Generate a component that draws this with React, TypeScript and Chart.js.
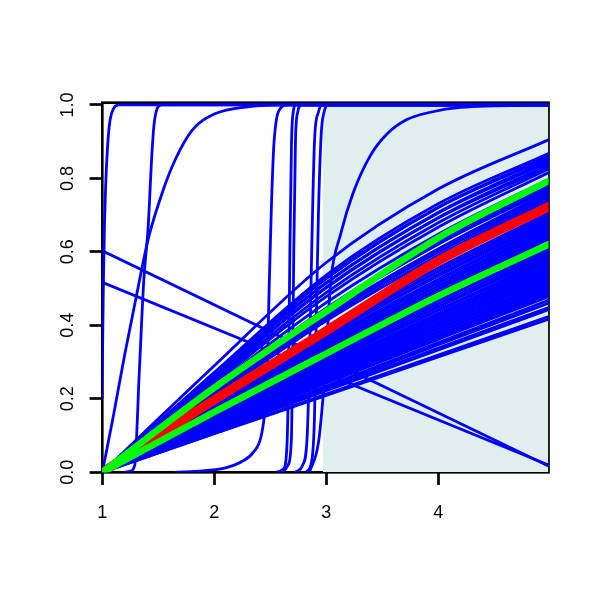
import React, { useEffect, useRef } from 'react';
import { Chart, registerables } from 'chart.js';

Chart.register(...registerables);

// ---- axis ranges ----
const xRange = [1, 4.985];
const yRange = [0, 1.006];

// ---- shaded region (x from / to, top) ----
const shadeX = [2.968, 4.985];
const shadeTop = 1.006;

// ---- fan of concave curves, y at x = 1..5 ----
const bundleX = [1, 2, 3, 4, 5];
const bundleY: number[][] = [
  [0, 0.290, 0.571, 0.771, 0.907],
  [0, 0.272, 0.537, 0.731, 0.870],
  [0, 0.267, 0.527, 0.721, 0.864],
  [0, 0.269, 0.529, 0.721, 0.858],
  [0, 0.261, 0.515, 0.707, 0.852],
  [0, 0.262, 0.516, 0.706, 0.846],
  [0, 0.254, 0.502, 0.693, 0.840],
  [0, 0.255, 0.504, 0.692, 0.834],
  [0, 0.248, 0.489, 0.679, 0.828],
  [0, 0.242, 0.478, 0.667, 0.818],
  [0, 0.234, 0.462, 0.648, 0.800],
  [0, 0.226, 0.447, 0.630, 0.783],
  [0, 0.221, 0.439, 0.622, 0.777],
  [0, 0.222, 0.441, 0.621, 0.771],
  [0, 0.215, 0.427, 0.608, 0.765],
  [0, 0.216, 0.429, 0.607, 0.759],
  [0, 0.212, 0.421, 0.599, 0.753],
  [0, 0.208, 0.412, 0.590, 0.747],
  [0, 0.209, 0.414, 0.589, 0.741],
  [0, 0.194, 0.386, 0.556, 0.708],
  [0, 0.190, 0.378, 0.548, 0.702],
  [0, 0.191, 0.380, 0.546, 0.696],
  [0, 0.187, 0.372, 0.538, 0.690],
  [0, 0.185, 0.369, 0.534, 0.684],
  [0, 0.181, 0.361, 0.525, 0.678],
  [0, 0.182, 0.362, 0.524, 0.672],
  [0, 0.178, 0.355, 0.516, 0.666],
  [0, 0.179, 0.356, 0.515, 0.660],
  [0, 0.175, 0.348, 0.507, 0.654],
  [0, 0.171, 0.341, 0.499, 0.648],
  [0, 0.172, 0.342, 0.498, 0.642],
  [0, 0.168, 0.335, 0.490, 0.637],
  [0, 0.159, 0.317, 0.467, 0.611],
  [0, 0.160, 0.319, 0.467, 0.606],
  [0, 0.156, 0.312, 0.459, 0.600],
  [0, 0.153, 0.305, 0.451, 0.594],
  [0, 0.153, 0.305, 0.450, 0.588],
  [0, 0.150, 0.299, 0.442, 0.582],
  [0, 0.150, 0.299, 0.441, 0.576],
  [0, 0.146, 0.292, 0.433, 0.570],
  [0, 0.143, 0.286, 0.426, 0.564],
  [0, 0.143, 0.286, 0.424, 0.558],
  [0, 0.140, 0.280, 0.417, 0.552],
  [0, 0.140, 0.280, 0.415, 0.546],
  [0, 0.137, 0.274, 0.408, 0.540],
  [0, 0.134, 0.267, 0.401, 0.534],
  [0, 0.134, 0.267, 0.399, 0.528],
  [0, 0.131, 0.261, 0.392, 0.522],
  [0, 0.131, 0.261, 0.390, 0.516],
  [0, 0.128, 0.255, 0.383, 0.510],
  [0, 0.128, 0.255, 0.381, 0.504],
  [0, 0.125, 0.249, 0.374, 0.498],
  [0, 0.125, 0.249, 0.371, 0.492],
  [0, 0.122, 0.243, 0.365, 0.486],
  [0, 0.122, 0.243, 0.362, 0.480],
  [0, 0.118, 0.235, 0.353, 0.470],
  [0, 0.116, 0.231, 0.347, 0.462],
  [0, 0.113, 0.225, 0.338, 0.450],
  [0, 0.111, 0.222, 0.333, 0.444],
  [0, 0.106, 0.213, 0.319, 0.425],
  [0, 0.105, 0.209, 0.314, 0.418],
];

// ---- highlighted curves, y at x = 1..5 ----
const redY = [0, 0.197, 0.385, 0.575, 0.725];
const greenUpperY = [0, 0.23, 0.438, 0.638, 0.795];
const greenLowerY = [0, 0.164, 0.323, 0.48, 0.622];

// ---- steep S-shaped curves: [x, y] pairs ----
const curveA: number[][] = [[0.99, 0], [0.998, 0.2], [1.003, 0.35], [1.01, 0.52], [1.02, 0.68], [1.03, 0.78], [1.05, 0.9], [1.07, 0.96], [1.1, 0.99], [1.15, 1], [4.985, 1]];
const curveB: number[][] = [[1.2, 0], [1.25, 0.003], [1.29, 0.02], [1.33, 0.27], [1.37, 0.52], [1.41, 0.67], [1.44, 0.85], [1.46, 0.94], [1.49, 0.99], [1.53, 1], [4.985, 1]];
const curveC: number[][] = [[1, 0], [1.1, 0.155], [1.2, 0.32], [1.324, 0.51], [1.41, 0.635], [1.54, 0.765], [1.65, 0.85], [1.8, 0.93], [2.0, 0.975], [2.3, 0.995], [2.7, 1], [4.985, 1]];
const curveE1: number[][] = [[1.65, 0], [1.9, 0.004], [2.1, 0.012], [2.25, 0.03], [2.35, 0.055], [2.42, 0.1], [2.455, 0.18], [2.475, 0.3], [2.49, 0.5], [2.51, 0.72], [2.53, 0.88], [2.555, 0.96], [2.59, 0.99], [2.65, 1], [4.985, 1]];
const curveE2: number[][] = [[2.55, 0], [2.62, 0.01], [2.65, 0.08], [2.665, 0.3], [2.675, 0.6], [2.69, 0.9], [2.705, 0.98], [2.73, 1], [4.985, 1]];
const curveE3: number[][] = [[2.6, 0], [2.66, 0.02], [2.69, 0.1], [2.7, 0.3], [2.71, 0.6], [2.725, 0.9], [2.745, 0.98], [2.78, 1], [4.985, 1]];
const curveE4: number[][] = [[2.72, 0], [2.79, 0.02], [2.83, 0.1], [2.85, 0.3], [2.87, 0.6], [2.895, 0.9], [2.93, 0.98], [2.97, 1], [4.985, 1]];
const curveE5: number[][] = [[2.82, 0], [2.87, 0.03], [2.895, 0.15], [2.91, 0.4], [2.93, 0.7], [2.955, 0.92], [2.98, 0.98], [3.02, 1], [4.985, 1]];
const curveD: number[][] = [[2.85, 0], [2.93, 0.08], [2.97, 0.2], [3.0, 0.33], [3.02, 0.43], [3.04, 0.52], [3.13, 0.65], [3.24, 0.76], [3.39, 0.86], [3.54, 0.92], [3.72, 0.96], [3.93, 0.98], [4.2, 0.993], [4.985, 1]];
const sCurves = [curveA, curveB, curveC, curveE1, curveE2, curveE3, curveE4, curveE5, curveD];

// ---- decreasing straight lines ----
const straightLines: number[][][] = [
  [[1, 0.603], [4.985, 0.017]],
  [[1, 0.517], [4.985, 0.02]],
];

// ---- tick settings ----
const xStep = 1;
const yStep = 0.2;

const BLUE = '#0000ff';
const RED = '#ff0000';
const GREEN = '#00ff00';
const SHADE = '#e0eeee';
const LABEL_FONT = '18px "Liberation Sans", Arial, Helvetica, sans-serif';

const toPts = (xs: number[], ys: number[]) => xs.map((x, i) => ({ x, y: ys[i] }));
const pairPts = (p: number[][]) => p.map(([x, y]) => ({ x, y }));

const framePlugin = {
  id: 'frameBox',
  beforeDatasetsDraw(chart: any) {
    const { ctx, chartArea: a } = chart;
    ctx.save();
    ctx.strokeStyle = '#000';
    ctx.lineWidth = 2.67;
    ctx.strokeRect(a.left, a.top, a.right - a.left, a.bottom - a.top);
    ctx.restore();
  },
};

// tick labels, placed at the scales' own tick positions
const tickLabelPlugin = {
  id: 'tickLabels',
  afterDraw(chart: any) {
    const { ctx, chartArea: a, scales } = chart;
    const xs = scales.x;
    const ys = scales.y;
    ctx.save();
    ctx.fillStyle = '#000';
    ctx.font = LABEL_FONT;
    ctx.textAlign = 'center';
    ctx.textBaseline = 'alphabetic';
    xs.ticks.forEach((t: any) => {
      const px = xs.getPixelForValue(t.value);
      ctx.fillText(String(t.value), px, a.bottom + 46);
    });
    ys.ticks.forEach((t: any) => {
      const py = ys.getPixelForValue(t.value);
      ctx.save();
      ctx.translate(a.left - 29, py);
      ctx.rotate(-Math.PI / 2);
      ctx.fillText(Number(t.value).toFixed(1), 0, 0);
      ctx.restore();
    });
    ctx.restore();
  },
};

export default function App() {
  const ref = useRef<HTMLCanvasElement | null>(null);

  useEffect(() => {
    if (!ref.current) return;
    const lineBase = { pointRadius: 0, fill: false, borderColor: BLUE, borderWidth: 2.8 };
    const datasets: any[] = [];

    datasets.push({
      data: [{ x: shadeX[0], y: shadeTop }, { x: shadeX[1], y: shadeTop }],
      fill: 'origin',
      backgroundColor: SHADE,
      borderColor: 'rgba(0,0,0,0)',
      borderWidth: 0,
      pointRadius: 0,
      order: 100,
    });
    bundleY.forEach((ys) => {
      datasets.push({ ...lineBase, data: toPts(bundleX, ys), cubicInterpolationMode: 'monotone', order: 50 });
    });
    sCurves.forEach((c) => {
      datasets.push({ ...lineBase, data: pairPts(c), cubicInterpolationMode: 'monotone', order: 50 });
    });
    straightLines.forEach((l) => {
      datasets.push({ ...lineBase, data: pairPts(l), tension: 0, order: 50 });
    });
    datasets.push({ ...lineBase, data: toPts(bundleX, redY), borderColor: RED, borderWidth: 9.3, cubicInterpolationMode: 'monotone', order: 2 });
    datasets.push({ ...lineBase, data: toPts(bundleX, greenUpperY), borderColor: GREEN, borderWidth: 6.7, cubicInterpolationMode: 'monotone', order: 1 });
    datasets.push({ ...lineBase, data: toPts(bundleX, greenLowerY), borderColor: GREEN, borderWidth: 6.7, cubicInterpolationMode: 'monotone', order: 1 });

    const chart = new Chart(ref.current, {
      type: 'line',
      data: { datasets },
      plugins: [framePlugin, tickLabelPlugin],
      options: {
        animation: false,
        responsive: false,
        devicePixelRatio: 1,
        layout: { padding: { top: 102.7, right: 51.5, left: 0, bottom: 0 } },
        plugins: { legend: { display: false }, tooltip: { enabled: false } },
        scales: {
          x: {
            type: 'linear',
            min: xRange[0],
            max: xRange[1],
            afterFit: (s: any) => { s.height = 127.7; },
            border: { display: false },
            grid: { drawOnChartArea: false, drawTicks: true, tickLength: 12.7, tickWidth: 2.67, tickColor: '#000' },
            ticks: { stepSize: xStep, includeBounds: false, autoSkip: false, display: false },
          },
          y: {
            type: 'linear',
            min: yRange[0],
            max: yRange[1],
            afterFit: (s: any) => { s.width = 102.3; },
            border: { display: false },
            grid: { drawOnChartArea: false, drawTicks: true, tickLength: 12.7, tickWidth: 2.67, tickColor: '#000' },
            ticks: { stepSize: yStep, includeBounds: false, autoSkip: false, display: false },
          },
        },
      } as any,
    });
    return () => chart.destroy();
  }, []);

  return (
    <div style={{ position: 'absolute', left: 0, top: 0, width: 600, height: 600, background: '#fff' }}>
      <canvas ref={ref} width={600} height={600} style={{ display: 'block' }} />
    </div>
  );
}
